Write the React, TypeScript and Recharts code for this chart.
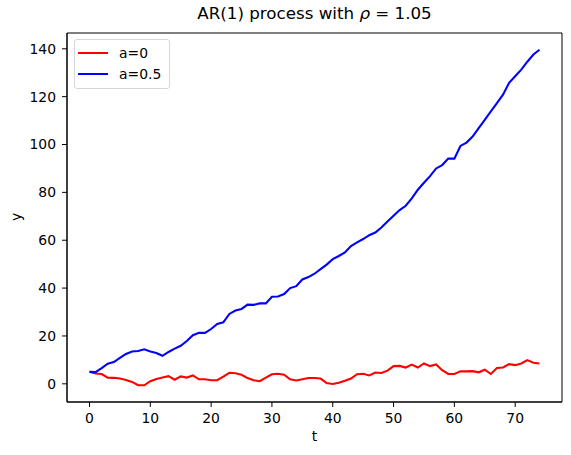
import React from "react";
import { LineChart, Line, XAxis, YAxis, Legend, ReferenceArea } from "recharts";

// time steps
const tValues = [
  0, 1, 2, 3, 4, 5, 6, 7, 8, 9, 10, 11, 12, 13, 14, 15, 16, 17, 18, 19, 20, 21, 22, 23, 24,
  25, 26, 27, 28, 29, 30, 31, 32, 33, 34, 35, 36, 37, 38, 39, 40, 41, 42, 43, 44, 45, 46, 47, 48, 49,
  50, 51, 52, 53, 54, 55, 56, 57, 58, 59, 60, 61, 62, 63, 64, 65, 66, 67, 68, 69, 70, 71, 72, 73, 74,
];

// a=0 (red)
const seriesA0 = [
  5.0, 4.3, 4.1, 2.6, 2.5, 2.2, 1.6, 0.8, -0.6, -0.6, 1.1, 2.0, 2.6, 3.2, 1.7, 3.1, 2.6, 3.5, 1.9, 1.9,
  1.5, 1.5, 3.0, 4.6, 4.4, 3.8, 2.4, 1.5, 1.1, 2.6, 4.0, 4.2, 3.8, 1.9, 1.4, 1.9, 2.4, 2.4, 2.2, 0.3,
  -0.1, 0.4, 1.3, 2.2, 4.0, 4.2, 3.5, 4.7, 4.5, 5.5, 7.4, 7.5, 6.8, 8.0, 6.8, 8.5, 7.4, 8.1, 5.7, 4.1,
  4.1, 5.2, 5.2, 5.3, 4.8, 5.9, 4.1, 6.6, 6.8, 8.2, 7.8, 8.5, 9.9, 8.8, 8.5,
];

// a=0.5 (blue)
const seriesA05 = [
  5.0, 4.9, 6.6, 8.4, 9.1, 10.8, 12.5, 13.5, 13.7, 14.4, 13.5, 12.9, 11.7, 13.3, 14.7, 15.9, 17.9, 20.3, 21.3, 21.3,
  22.9, 25.0, 25.7, 29.2, 30.6, 31.3, 33.1, 33.0, 33.6, 33.6, 36.4, 36.5, 37.5, 40.0, 40.8, 43.6, 44.6, 46.0, 47.9, 49.8,
  52.1, 53.4, 54.9, 57.6, 59.1, 60.5, 62.1, 63.2, 65.3, 67.8, 70.2, 72.6, 74.4, 77.5, 81.1, 84.0, 86.8, 90.0, 91.4, 94.1,
  94.1, 99.4, 100.8, 103.3, 106.8, 110.3, 113.8, 117.3, 120.8, 125.8, 128.5, 131.3, 134.6, 137.6, 139.6,
];

const xTicks = [0, 10, 20, 30, 40, 50, 60, 70];
const yTicks = [0, 20, 40, 60, 80, 100, 120, 140];
const xDomain = [-3.7, 77.7];
const yDomain = [-7.6, 146.6];

const data = tValues.map((t, i) => ({ t, a0: seriesA0[i], a05: seriesA05[i] }));

const FONT = "'DejaVu Sans', sans-serif";

function renderLegend(props: any) {
  const { payload } = props;
  return (
    <div
      style={{
        border: "1px solid #d6d6d6",
        borderRadius: 3,
        background: "#fff",
        padding: "3px 8px 4px 3px",
        fontFamily: FONT,
        fontSize: 13.9,
      }}
    >
      {(payload || []).map((p: any) => (
        <div key={p.value} style={{ display: "flex", alignItems: "center", height: 20.6 }}>
          <div style={{ width: 30, height: 2, background: p.color, marginRight: 11 }} />
          <span>{p.value}</span>
        </div>
      ))}
    </div>
  );
}

export default function App() {
  return (
    <div style={{ position: "absolute", left: 0, top: 0, width: 571, height: 455, background: "#fff", fontFamily: FONT }}>
      <div style={{ position: "absolute", left: 67, width: 495, top: 3, textAlign: "center", fontSize: 16.7 }}>
        AR(1) process with <i>ρ</i> = 1.05
      </div>
      <div style={{ position: "absolute", left: 67, width: 495, top: 428, textAlign: "center", fontSize: 13.9 }}>t</div>
      <div
        style={{
          position: "absolute",
          left: 16,
          top: 217,
          fontSize: 13.9,
          transform: "translate(-50%, -50%) rotate(-90deg)",
        }}
      >
        y
      </div>
      <LineChart width={571} height={455} data={data} margin={{ top: 33, right: 9, bottom: 0, left: 0 }}>
        <XAxis
          dataKey="t"
          type="number"
          domain={xDomain}
          ticks={xTicks}
          allowDataOverflow
          height={53}
          stroke="#000"
          tickSize={5}
          tickMargin={6}
          tick={{ fontSize: 13.9, fill: "#000", fontFamily: FONT }}
        />
        <YAxis
          type="number"
          domain={yDomain}
          ticks={yTicks}
          allowDataOverflow
          width={67}
          stroke="#000"
          tickSize={5}
          tickMargin={6}
          tick={{ fontSize: 13.9, fill: "#000", fontFamily: FONT }}
        />
        <ReferenceArea x1={xDomain[0]} x2={xDomain[1]} y1={yDomain[0]} y2={yDomain[1]} fill="none" stroke="#000" strokeWidth={1} ifOverflow="visible" />
        <Line type="linear" dataKey="a0" name="a=0" stroke="#ff0000" strokeWidth={2.1} dot={false} isAnimationActive={false} />
        <Line type="linear" dataKey="a05" name="a=0.5" stroke="#0000ff" strokeWidth={2.1} dot={false} isAnimationActive={false} />
        <Legend
          layout="vertical"
          align="center"
          verticalAlign="middle"
          content={renderLegend}
          wrapperStyle={{ left: 74, top: 39, width: "auto", height: "auto" }}
        />
      </LineChart>
    </div>
  );
}
